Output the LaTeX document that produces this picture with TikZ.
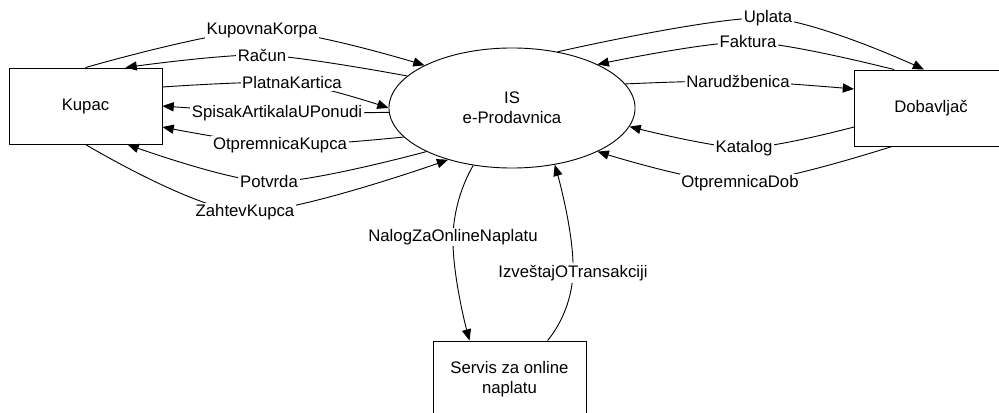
\documentclass[tikz,border=0pt]{standalone}
\usepackage{fontspec}
\setmainfont{Liberation Sans}
\usetikzlibrary{arrows.meta,shapes.geometric,calc,backgrounds}

\begin{document}
\begin{tikzpicture}[
  x=0.025cm, y=-0.025cm,
  every node/.style={font=\fontsize{11.9pt}{14.5pt}\selectfont},
  entity/.style={draw, line width=0.65pt, minimum width=3.825cm, minimum height=1.9cm,
                 inner sep=0pt, align=center},
  process/.style={draw, ellipse, line width=0.65pt, minimum width=6.15cm, minimum height=3cm,
                  inner sep=0pt, align=center},
  lbl/.style={fill=white, inner sep=1.2pt},
  flow/.style={line width=0.65pt, -{Triangle[length=8pt,width=6.5pt]}},
]
\useasboundingbox (0,0) rectangle (999,413);

% external entities and the central process
\node[entity]  (kupac)  at (85.5,106) {Kupac};
\node[process] (is)     at (512,108)  {IS\\e-Prodavnica};
\node[entity]  (dob)    at (931,108)  {Dobavljač};
\node[entity]  (servis) at (509.5,379) {Servis za online\\naplatu};

% data flow labels
\node[lbl] (kk)  at (262,30)  {KupovnaKorpa};
\node[lbl] (rc)  at (262,55)  {Račun};
\node[lbl] (pk)  at (292,83)  {PlatnaKartica};
\node[lbl] (sa)  at (277,113) {SpisakArtikalaUPonudi};
\node[lbl] (ok)  at (280,145) {OtpremnicaKupca};
\node[lbl] (pv)  at (269,182) {Potvrda};
\node[lbl] (zk)  at (245,212) {ZahtevKupca};
\node[lbl] (up)  at (768,18)  {Uplata};
\node[lbl] (fk)  at (748,42)  {Faktura};
\node[lbl] (nr)  at (738,81)  {Narudžbenica};
\node[lbl] (kt)  at (744,148) {Katalog};
\node[lbl] (od)  at (740,183) {OtpremnicaDob};
\node[lbl] (nz)  at (453,237) {NalogZaOnlineNaplatu};
\node[lbl] (it)  at (573,273) {IzveštajOTransakciji};

% data flows
\begin{scope}[on background layer]
  % Kupac <-> IS
  \draw[flow] plot[smooth] coordinates {(kupac.north) (kk.center) (is.154)};
  \draw[flow] plot[smooth] coordinates {(is.163) (rc.center) ($(kupac.north)+(40,0)$)};
  \draw[flow] plot[smooth] coordinates {($(kupac.east)+(0,-19)$) (pk.center) (is.180)};
  \draw[flow] plot[smooth] coordinates {(is.182) (sa.center) (kupac.east)};
  \draw[flow] plot[smooth] coordinates {(is.195) (ok.center) ($(kupac.east)+(0,21)$)};
  \draw[flow] plot[smooth] coordinates {(is.207) (pv.center) ($(kupac.south)+(42,0)$)};
  \draw[flow] plot[smooth] coordinates {(kupac.south) (zk.center) (is.219)};
  % IS <-> Dobavljac
  \draw[flow] plot[smooth] coordinates {(is.51) (up.center) ($(dob.north)+(-7,0)$)};
  \draw[flow] plot[smooth] coordinates {($(dob.north)+(-37,0)$) (fk.center) (is.27)};
  \draw[flow] plot[smooth] coordinates {(is.12) (nr.center) ($(dob.west)+(0,-19)$)};
  \draw[flow] plot[smooth] coordinates {($(dob.west)+(0,19)$) (kt.center) (is.-9)};
  \draw[flow] plot[smooth] coordinates {($(dob.south)+(-39,0)$) (od.center) (is.-27)};
  % IS <-> payment service
  \draw[flow] plot[smooth, tension=0.85] coordinates {(is.236) (nz.center) ($(servis.north)+(-40,0)$)};
  \draw[flow] plot[smooth, tension=0.85] coordinates {($(servis.north)+(38,0)$) (it.center) (is.307)};
\end{scope}
\end{tikzpicture}
\end{document}
